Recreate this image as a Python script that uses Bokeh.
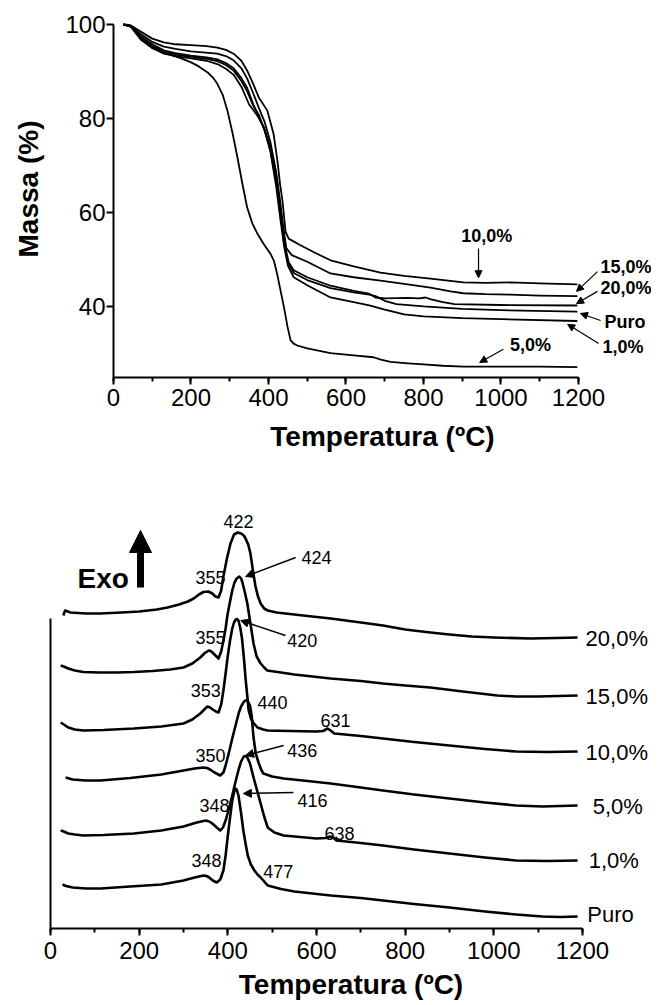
import numpy as np
from bokeh.plotting import figure
from bokeh.models import Range1d, Label, Arrow, NormalHead, SingleIntervalTicker, FixedTicker
from bokeh.embed import file_html
from bokeh.resources import INLINE

FONT = "Liberation Sans"

# ---------------- TG data (Temperatura ºC, Massa %) ----------------
tg_names = ["10,0%", "15,0%", "20,0%", "Puro", "1,0%", "5,0%"]

tg_10_T = [25, 45, 70, 100, 130, 160, 200, 240, 268, 290, 310, 330, 345, 360, 375, 397, 413, 423, 430, 436, 444, 452, 480, 520, 560, 620, 689, 750, 818, 903, 960, 1025, 1100, 1197]
tg_10_m = [100, 99.8, 98.5, 97.0, 96.2, 95.8, 95.6, 95.4, 95.1, 94.6, 93.8, 92.3, 90.2, 87.5, 84.5, 81.7, 76.8, 71.1, 66.0, 62.6, 56.0, 54.5, 53.2, 51.5, 49.9, 48.6, 47.3, 46.6, 46.0, 45.2, 45.1, 45.2, 45.0, 44.8]

tg_15_T = [25, 45, 70, 100, 130, 160, 200, 268, 290, 310, 330, 345, 360, 375, 390, 405, 420, 430, 438, 446, 460, 500, 560, 620, 689, 750, 818, 870, 903, 960, 1025, 1100, 1197]
tg_15_m = [100, 99.7, 98.0, 96.3, 95.3, 94.8, 94.3, 93.8, 93.3, 92.4, 90.7, 88.5, 85.5, 82.3, 79.3, 75.0, 68.5, 62.5, 57.0, 52.5, 51.0, 49.6, 47.1, 46.3, 45.6, 44.9, 44.1, 43.3, 42.9, 42.7, 42.6, 42.4, 42.3]

tg_20_T = [25, 45, 70, 100, 130, 160, 200, 240, 268, 290, 310, 330, 345, 362, 375, 390, 405, 420, 430, 440, 452, 465, 500, 560, 620, 660, 676, 700, 760, 790, 805, 820, 850, 880, 1000, 1197]
tg_20_m = [100, 99.6, 97.5, 95.8, 94.5, 93.9, 93.4, 93.0, 92.6, 91.8, 90.7, 88.6, 86.5, 82.8, 80.5, 77.5, 74.0, 68.0, 61.0, 54.0, 49.5, 47.8, 46.3, 44.5, 43.4, 42.8, 42.0, 41.8, 41.9, 41.8, 42.0, 41.6, 41.0, 40.6, 40.4, 40.3]

tg_puro_T = [25, 45, 70, 100, 130, 160, 200, 240, 268, 290, 310, 330, 345, 362, 375, 390, 405, 420, 430, 440, 450, 465, 500, 560, 620, 660, 676, 700, 730, 800, 900, 1000, 1197]
tg_puro_m = [100, 99.6, 97.2, 95.4, 94.2, 93.6, 93.1, 92.7, 92.2, 91.4, 90.2, 88.0, 85.8, 82.5, 80.8, 77.5, 73.2, 66.5, 60.5, 53.5, 49.5, 47.2, 45.7, 44.0, 43.1, 42.6, 42.3, 41.3, 40.6, 40.1, 39.6, 39.3, 39.0]

tg_1_T = [25, 45, 70, 100, 130, 160, 200, 240, 268, 290, 310, 330, 350, 370, 388, 405, 420, 430, 440, 450, 465, 500, 560, 620, 660, 700, 750, 800, 900, 1000, 1197]
tg_1_m = [100, 99.5, 96.8, 95.0, 93.8, 93.3, 92.8, 92.3, 91.6, 90.6, 89.3, 86.8, 83.0, 80.8, 78.2, 73.0, 65.5, 59.0, 53.0, 48.8, 46.3, 44.6, 42.0, 41.0, 40.3, 39.4, 38.4, 38.0, 37.6, 37.4, 37.0]

tg_5_T = [25, 40, 60, 80, 100, 125, 150, 175, 199, 220, 243, 258, 268, 282, 294, 307, 320, 333, 345, 358, 371, 388, 405, 414, 422, 431, 440, 449, 457, 465, 474, 500, 560, 620, 671, 690, 715, 760, 800, 850, 903, 1000, 1100, 1197]
tg_5_m = [100, 99.9, 98.3, 96.3, 95.0, 94.2, 93.5, 92.8, 92.0, 91.1, 89.8, 88.6, 87.4, 85.0, 81.7, 77.0, 71.7, 66.0, 61.1, 57.8, 55.6, 53.3, 51.3, 49.8, 47.1, 43.5, 39.9, 35.8, 32.9, 32.2, 31.8, 31.2, 30.2, 29.7, 29.3, 28.8, 28.3, 28.0, 27.8, 27.5, 27.3, 27.3, 27.3, 27.2]

tg_T = [tg_10_T, tg_15_T, tg_20_T, tg_puro_T, tg_1_T, tg_5_T]
tg_m = [tg_10_m, tg_15_m, tg_20_m, tg_puro_m, tg_1_m, tg_5_m]

# label positions (T, m, align) and arrows (T0, m0, T1, m1)
tg_label_pos = [(963, 55.0, "center"), (1257, 48.4, "left"), (1257, 44.1, "left"),
                (1267, 36.7, "left"), (1262, 31.4, "left"), (1076, 32.0, "center")]
tg_arrows = [(942, 52.4, 942, 46.2), (1249, 47.5, 1195, 43.3), (1249, 43.3, 1195, 40.7),
             (1257, 37.1, 1205, 38.6), (1252, 32.2, 1172, 36.3), (1006, 31.0, 945, 28.2)]

tg_y_ticks = [40, 60, 80, 100]

# ---------------- ATD data (Temperatura ºC, sinal deslocado) ----------------
atd_names = ["20,0%", "15,0%", "10,0%", "5,0%", "1,0%", "Puro"]

atd_20_T = [29, 33, 45, 80, 113, 160, 200, 240, 264, 290, 310, 323, 335, 345, 356, 365, 372, 379, 385, 390, 398, 406, 414, 422, 430, 436, 440, 446, 451, 456, 462, 468, 474, 482, 490, 510, 530, 580, 632, 700, 750, 800, 857, 900, 950, 1000, 1083, 1140, 1189]
atd_20_v = [313, 318, 316, 315, 315, 316, 317, 319, 321, 324, 327, 330, 334, 336.5, 337, 335, 332, 331, 338, 352, 370, 385, 394, 396, 395, 393, 390, 384, 375, 360, 343, 332, 325, 320, 318, 316, 315, 312.5, 310, 306, 303, 299, 296, 294, 292, 291, 290, 290.5, 291]

atd_15_T = [23, 30, 40, 55, 74, 110, 150, 188, 230, 270, 300, 320, 338, 348, 357, 363, 370, 379, 385, 390, 395, 399, 405, 410, 415, 420, 426, 430, 433, 438, 444, 451, 458, 465, 474, 482, 489, 520, 550, 632, 700, 750, 800, 857, 930, 1008, 1050, 1100, 1189]
atd_15_v = [263, 262, 260, 258, 256.5, 256, 256, 256.5, 257.5, 259, 261, 265, 271, 275.5, 278, 277, 274, 270, 277, 288, 300, 313, 327, 338, 346, 350, 352, 350, 346, 337, 325, 305, 285, 272, 265, 261, 258, 256, 254, 250, 247.5, 245, 243, 241, 237, 233, 232, 232, 233]

atd_10_T = [23, 30, 40, 55, 74, 120, 188, 250, 300, 320, 338, 347, 354, 360, 366, 373, 379, 385, 390, 395, 400, 405, 410, 414, 418, 421, 424, 428, 432, 436, 440, 444, 447, 452, 457, 467, 480, 490, 540, 600, 615, 625, 632, 640, 700, 750, 820, 900, 980, 1050, 1120, 1189]
atd_10_v = [206, 204, 201, 199, 198, 198.5, 200, 202, 205, 209, 215, 219, 222, 221, 219, 217, 216, 224, 238, 255, 273, 288, 300, 306, 309, 309.5, 308, 301, 290, 272, 250, 232, 218, 210, 206, 201, 199, 198, 197.5, 197, 197.5, 200, 198, 195, 192.5, 190, 186.5, 183, 179.5, 177, 176.5, 177]

atd_5_T = [34, 42, 50, 80, 113, 180, 250, 300, 325, 345, 353, 360, 370, 383, 390, 395, 402, 410, 418, 425, 430, 435, 439, 442, 446, 450, 454, 458, 463, 470, 475, 480, 500, 526, 580, 632, 700, 750, 820, 900, 980, 1050, 1110, 1189]
atd_5_v = [151, 150, 149, 148, 148, 150.5, 154, 158, 160, 161, 160.5, 159, 156, 153, 156, 163, 175, 190, 204, 216, 222, 226, 228, 228, 226.5, 223, 212, 191, 175, 165, 159, 155, 152, 150, 147.5, 145, 141, 138, 134, 130, 126, 123, 122, 123]

atd_1_T = [23, 30, 40, 55, 74, 120, 188, 250, 300, 330, 350, 358, 365, 375, 383, 389, 395, 402, 410, 418, 425, 430, 436, 440, 444, 450, 454, 458, 466, 474, 482, 490, 505, 526, 600, 622, 630, 638, 645, 700, 750, 820, 900, 980, 1050, 1120, 1189]
atd_1_v = [98, 97, 95, 94, 93, 93.5, 95, 98, 102, 106, 108, 107, 105, 101, 98, 101, 108, 119, 133, 148, 160, 167, 172, 172.5, 171, 165, 158, 151, 138, 125, 112, 101, 96, 93, 90, 90.5, 92, 91, 88, 85.5, 83, 79, 75, 71, 68, 67.5, 68]

atd_p_T = [27, 35, 50, 80, 113, 180, 250, 300, 325, 345, 352, 358, 366, 375, 383, 390, 395, 400, 405, 410, 414, 417, 420, 424, 430, 435, 440, 445, 452, 460, 467, 474, 480, 490, 520, 550, 632, 700, 750, 820, 900, 980, 1050, 1110, 1150, 1189]
atd_p_v = [44, 42.5, 41, 40, 40, 42, 44, 48, 51, 53, 52.5, 51, 48, 46, 49, 58, 73, 93, 111, 128, 136, 140, 139, 133, 115, 98, 85, 73, 64, 58, 54, 51, 48, 43, 39.5, 37, 33, 30.5, 28, 24.5, 21, 17, 14, 12, 11.5, 12]

atd_T = [atd_20_T, atd_15_T, atd_10_T, atd_5_T, atd_1_T, atd_p_T]
atd_v = [atd_20_v, atd_15_v, atd_10_v, atd_5_v, atd_1_v, atd_p_v]

atd_label_pos = [(1207, 290), (1207, 232), (1207, 176), (1223, 122), (1214, 68), (1211, 14)]

peak_texts = ["422", "424", "355", "355", "420", "353", "440", "631", "350", "436", "348", "416", "638", "348", "477"]
peak_pos = [(424, 407), (600, 371), (361, 351), (361, 291), (568, 288), (350, 238), (501, 226), (643, 208),
            (361, 173), (568, 178), (370, 123), (591, 128), (652, 95), (352, 68), (514, 57)]
peak_arrows = [(553, 371, 440, 352), (530, 293, 429, 308), (526, 183, 440, 173), (548, 136, 435, 135)]


def style_axis(ax):
    ax.axis_line_width = 2
    ax.axis_line_color = "black"
    ax.major_tick_line_width = 2
    ax.major_tick_line_color = "black"
    ax.major_tick_out = 7
    ax.major_tick_in = 0
    ax.minor_tick_line_width = 2
    ax.minor_tick_line_color = "black"
    ax.minor_tick_out = 4
    ax.minor_tick_in = 0
    ax.major_label_text_font = FONT
    ax.major_label_text_font_size = "24px"
    ax.major_label_text_color = "black"
    ax.axis_label_text_font = FONT
    ax.axis_label_text_font_size = "28px"
    ax.axis_label_text_font_style = "bold"
    ax.axis_label_text_color = "black"


# ================= TG figure =================
p1 = figure(width=651, height=460, x_range=Range1d(0, 1388.4), y_range=Range1d(25.0, 105.1),
            output_backend="svg", toolbar_location=None,
            min_border_left=113, min_border_right=0, min_border_top=0, min_border_bottom=83)
p1.outline_line_color = None
p1.grid.visible = False
p1.background_fill_color = "white"
p1.border_fill_color = "white"

for T, m in zip(tg_T, tg_m):
    p1.line(T, m, line_color="black", line_width=1.8, line_join="round")

for (x, y, al), name in zip(tg_label_pos, tg_names):
    p1.add_layout(Label(x=x, y=y, text=name, text_font=FONT, text_font_size="18px",
                        text_font_style="bold", text_align=al, text_baseline="middle", text_color="black"))
for (x0, y0, x1, y1) in tg_arrows:
    p1.add_layout(Arrow(x_start=x0, y_start=y0, x_end=x1, y_end=y1, line_width=1.2, line_color="black",
                        end=NormalHead(size=7, fill_color="black", line_color="black", line_width=1)))

xa = p1.xaxis[0]
xa.ticker = SingleIntervalTicker(interval=200, num_minor_ticks=2)
xa.bounds = (0, 1200)
xa.axis_label = "Temperatura (ºC)"
ya = p1.yaxis[0]
ya.ticker = FixedTicker(ticks=tg_y_ticks)
ya.bounds = (25, 100)
ya.axis_label = "Massa (%)"
style_axis(xa)
style_axis(ya)
ya.minor_tick_line_color = None
xa.major_label_standoff = 4
xa.axis_label_standoff = 12
ya.major_label_standoff = 1
ya.axis_label_standoff = 18

# ================= ATD figure =================
p2 = figure(width=651, height=545, x_range=Range1d(0, 1355.7), y_range=Range1d(0, 468),
            output_backend="svg", toolbar_location=None,
            min_border_left=50, min_border_right=0, min_border_top=0, min_border_bottom=77)
p2.outline_line_color = None
p2.grid.visible = False
p2.background_fill_color = "white"
p2.border_fill_color = "white"

for T, v in zip(atd_T, atd_v):
    p2.line(T, v, line_color="black", line_width=2.6, line_join="round")

for (x, y), name in zip(atd_label_pos, atd_names):
    p2.add_layout(Label(x=x, y=y, text=name, text_font=FONT, text_font_size="22px",
                        text_align="left", text_baseline="middle", text_color="black"))
for (x, y), t in zip(peak_pos, peak_texts):
    p2.add_layout(Label(x=x, y=y, text=t, text_font=FONT, text_font_size="18px",
                        text_align="center", text_baseline="middle", text_color="black"))
for (x0, y0, x1, y1) in peak_arrows:
    p2.add_layout(Arrow(x_start=x0, y_start=y0, x_end=x1, y_end=y1, line_width=1.5, line_color="black",
                        end=NormalHead(size=8, fill_color="black", line_color="black", line_width=1)))

# Exo indicator
p2.add_layout(Arrow(x_start=203, y_start=341, x_end=203, y_end=398, line_width=7, line_color="black",
                    end=NormalHead(size=22, fill_color="black", line_color="black", line_width=1)))
p2.add_layout(Label(x=61, y=350, text="Exo", text_font=FONT, text_font_size="28px", text_font_style="bold",
                    text_align="left", text_baseline="middle", text_color="black"))
# y title
p2.add_layout(Label(x=-54, y=171, text="ATD", text_font=FONT, text_font_size="28px", text_font_style="bold",
                    text_align="center", text_baseline="middle", angle=np.pi / 2, text_color="black"))

xb = p2.xaxis[0]
xb.ticker = SingleIntervalTicker(interval=200, num_minor_ticks=2)
xb.bounds = (0, 1200)
xb.axis_label = "Temperatura (ºC)"
yb = p2.yaxis[0]
yb.ticker = FixedTicker(ticks=[])
yb.bounds = (0, 310)
style_axis(xb)
style_axis(yb)
yb.major_tick_out = 0
yb.minor_tick_line_color = None
xb.major_label_standoff = 6
xb.axis_label_standoff = 7

open("out.html", "w").write(file_html([p1, p2], INLINE))
